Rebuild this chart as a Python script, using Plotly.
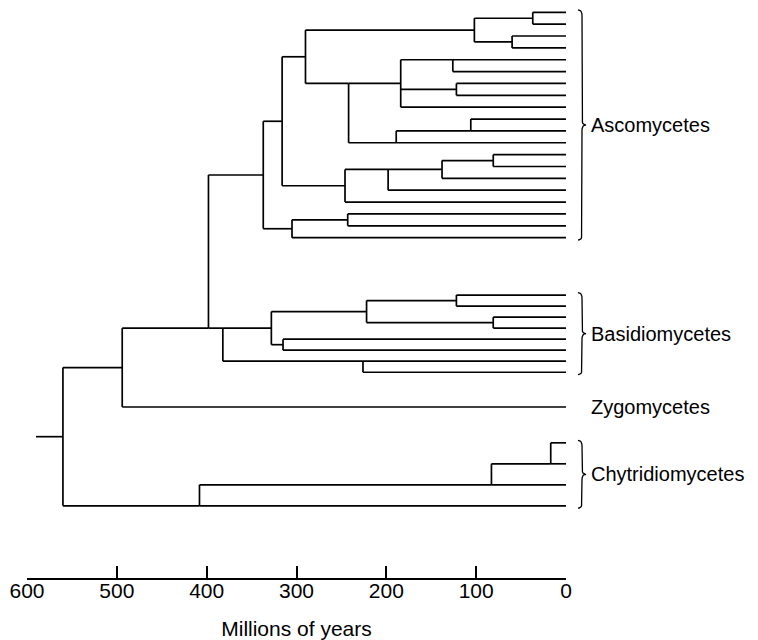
import plotly.graph_objects as go

# ---------------- data ----------------
L = None  # a leaf (terminal taxon)

# Nested clades: [age of node in Myr, child, child, ...]; None = leaf (age 0)
ascomycetes = [337,
               [316,
                [290,
                 [102, [37, L, L], [60, L, L]],
                 [242, [184, [126, L, L], [122, L, L], L], [189, [106, L, L], L]]],
                [246, [198, [138, [81, L, L], L], L], L]],
               [305, [243, L, L], L]]
basidiomycetes = [382, [328, [222, [122, L, L], [81, L, L]], [315, L, L]], [226, L, L]]
zygomycetes = L
chytridiomycetes = [408, [83, [17, L, L], L], L]

dikarya_age = 398
zygo_split_age = 494
root_age = 560
stem_age = 590

group_names = ["Ascomycetes", "Basidiomycetes", "Zygomycetes", "Chytridiomycetes"]
group_sizes = [20, 8, 1, 4]

tick_values = [600, 500, 400, 300, 200, 100, 0]
tick_labels = ["600", "500", "400", "300", "200", "100", "0"]
axis_title = "Millions of years"

# ---------------- layout / style ----------------
# leaf row placement per group: (first row, row step)
GROUP_ROWS = {"Ascomycetes": (0.0, 1.0), "Basidiomycetes": (23.84, 0.93),
              "Zygomycetes": (33.28, 1.0), "Chytridiomycetes": (36.3, 1.77)}
# where a node's stem joins its vertical (default: middle)
JOIN = {126: "first", 106: "last", 189: "last", 242: "first", 198: "first",
        226: "first", 382: "first", 398: "last", 17: "last", 83: "last", 408: "last"}
FONT = "Liberation Sans, Arial, Helvetica, sans-serif"
LW = 1.7
FS = 21
FS_LABEL = 20

# page has an 8px body margin; figure sized to fill the window
PAGE_OFF = 8
W, H = 758 - PAGE_OFF, 640 - PAGE_OFF
AX_LEFT, AX_RIGHT, AX_Y = 27 - PAGE_OFF, 566 - PAGE_OFF, 578 - PAGE_OFF
FIRST_LEAF_PX = 12.3 - PAGE_OFF
PX_PER_ROW = 11.86

tree = [root_age, [zygo_split_age, [dikarya_age, ascomycetes, basidiomycetes], zygomycetes],
        chytridiomycetes]


def leaf_rows():
    for name, n in zip(group_names, group_sizes):
        start, step = GROUP_ROWS[name]
        for i in range(n):
            yield start + i * step


rows_iter = leaf_rows()
xs, ys = [], []


def seg(x0, y0, x1, y1):
    xs.extend([x0, x1, None])
    ys.extend([y0, y1, None])


def draw(node):
    if node is None:
        return next(rows_iter), 0
    age, kids = node[0], node[1:]
    kid_y = []
    for k in kids:
        y, a = draw(k)
        seg(age, y, a, y)
        kid_y.append(y)
    seg(age, kid_y[0], age, kid_y[-1])
    mode = JOIN.get(age, "mid")
    if mode == "first":
        y = kid_y[0]
    elif mode == "last":
        y = kid_y[-1]
    else:
        y = (kid_y[0] + kid_y[-1]) / 2
    return y, age


root_y, _ = draw(tree)
seg(stem_age, root_y, root_age, root_y)

fig = go.Figure()
fig.add_trace(go.Scatter(x=xs, y=ys, mode="lines", line=dict(color="black", width=LW),
                         hoverinfo="skip", showlegend=False))


# group brackets and labels (right-hand panel, x2 in pixel units from the tips)
def bezier(p0, p1, p2, n=6):
    pts = []
    for i in range(n + 1):
        t = i / n
        x = (1 - t) ** 2 * p0[0] + 2 * (1 - t) * t * p1[0] + t ** 2 * p2[0]
        y = (1 - t) ** 2 * p0[1] + 2 * (1 - t) * t * p1[1] + t ** 2 * p2[1]
        pts.append((x, y))
    return pts


bx, by = [], []
for name, n in zip(group_names, group_sizes):
    start, step = GROUP_ROWS[name]
    first, last = start, start + (n - 1) * step
    mid = (first + last) / 2
    if n > 1:
        top, bot = first - 0.2, last + 0.2
        c = 0.45
        xa, xb, xt = 12, 16, 20
        pts = []
        pts += bezier((xa, top), (xb, top), (xb, top + c))
        pts += bezier((xb, mid - c), (xb, mid), (xt, mid))
        pts += bezier((xt, mid), (xb, mid), (xb, mid + c))
        pts += bezier((xb, bot - c), (xb, bot), (xa, bot))
        for p in pts:
            bx.append(p[0]); by.append(p[1])
        bx.append(None); by.append(None)
    fig.add_annotation(x=24, y=mid, xref="x2", yref="y", text=name, showarrow=False,
                       xanchor="left", yanchor="middle", borderpad=0,
                       font=dict(family=FONT, size=FS_LABEL, color="black"))

fig.add_trace(go.Scatter(x=bx, y=by, mode="lines", xaxis="x2", yaxis="y",
                         line=dict(color="black", width=1.3), hoverinfo="skip",
                         showlegend=False))

top_row = -FIRST_LEAF_PX / PX_PER_ROW
bot_row = (AX_Y - FIRST_LEAF_PX) / PX_PER_ROW

fig.update_layout(
    width=W, height=H, margin=dict(l=0, r=0, t=0, b=H - AX_Y, pad=0),
    paper_bgcolor="white", plot_bgcolor="white", showlegend=False,
    font=dict(family=FONT, color="black"),
    xaxis=dict(domain=[AX_LEFT / W, AX_RIGHT / W], range=[600, 0], tickvals=tick_values,
               ticktext=tick_labels, ticks="inside", ticklen=12, tickwidth=1.5,
               tickcolor="black", showline=True, linecolor="black", linewidth=1.5,
               showgrid=False, zeroline=False, automargin=False,
               ticklabelstandoff=-7,
               tickfont=dict(size=FS, family=FONT),
               title=dict(text=axis_title, font=dict(size=FS, family=FONT), standoff=25)),
    xaxis2=dict(domain=[AX_RIGHT / W, 1], range=[0, W - AX_RIGHT], anchor="y",
                visible=False),
    yaxis=dict(range=[bot_row, top_row], visible=False, domain=[0, 1]),
)

fig.write_html("out.html")
